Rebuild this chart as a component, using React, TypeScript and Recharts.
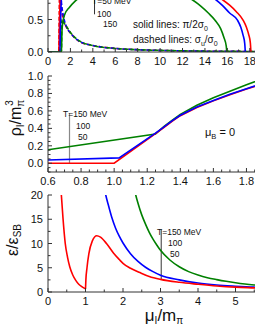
import React from 'react';
import { LineChart, Line, XAxis, YAxis, ReferenceLine } from 'recharts';

const FONT = '"Liberation Sans", Arial, Helvetica, sans-serif';
const RED = '#ff0000';
const BLUE = '#0000ff';
const GREEN = '#008000';
const AX = '#333333';
const TXT = '#111111';

type P = [number, number];

// ---------- top panel: pi/2sigma0 (solid) and sigma_u/sigma0 (dashed) ----------
const topXTicks = [0, 1, 2, 3, 4, 5, 6, 7, 8, 9, 10, 11, 12, 13, 14, 15, 16, 17, 18, 19];
const topXLabels = [0, 2, 4, 6, 8, 10, 12, 14, 16, 18];
const topYTicks = [0, 0.25, 0.5, 0.75, 1.0];
const topYLabels = [0, 0.5];

const topRedSolid: P[] = [[0, 0], [0.97, 0], [1.0, 0.25], [1.04, 0.55], [1.09, 0.8], [1.18, 0.95], [1.5, 1.05], [3, 1.1], [6, 1.12], [9, 1.1], [12, 1.02], [14, 0.93], [15, 0.86], [15.6, 0.8], [16.2, 0.72], [16.8, 0.62], [17.4, 0.49], [17.7, 0.38], [17.9, 0.27], [18.05, 0.14], [18.1, 0]];
const topBlueSolid: P[] = [[0, 0], [1.07, 0], [1.1, 0.3], [1.14, 0.6], [1.19, 0.8], [1.3, 0.95], [2, 1.05], [5, 1.1], [9, 1.07], [12, 0.98], [14, 0.87], [15, 0.8], [15.6, 0.71], [16.2, 0.6], [16.9, 0.49], [17.2, 0.38], [17.4, 0.26], [17.55, 0.13], [17.6, 0]];
const topGreenSolid: P[] = [[0, 0], [1.2, 0], [1.22, 0.15], [1.25, 0.33], [1.32, 0.45], [1.47, 0.57], [1.92, 0.69], [2.4, 0.78], [3.5, 0.9], [5, 0.98], [7, 1.02], [9, 1.0], [11, 0.93], [12, 0.86], [12.9, 0.8], [13.6, 0.71], [14.3, 0.6], [14.9, 0.49], [15.4, 0.36], [15.7, 0.22], [15.9, 0.09], [15.95, 0]];
const topRedDashed: P[] = [[0, 0], [0.97, 0], [1.0, 0.6], [1.03, 0.95], [1.1, 0.78], [1.3, 0.55], [1.62, 0.39], [2.07, 0.28], [2.8, 0.16], [4, 0.1], [6, 0.055], [8, 0.035], [10, 0.025], [13, 0.015], [16, 0.01], [19, 0.008]];
const topBlueDashed: P[] = [[0, 0], [1.07, 0], [1.1, 0.6], [1.13, 0.9], [1.2, 0.76], [1.4, 0.53], [1.62, 0.4], [2.07, 0.28], [2.8, 0.165], [4, 0.1], [6, 0.055], [8, 0.035], [10, 0.025], [13, 0.015], [16, 0.01], [19, 0.008]];
const topGreenDashed: P[] = [[0, 0], [1.2, 0], [1.23, 0.5], [1.3, 0.48], [1.45, 0.44], [1.62, 0.4], [2.07, 0.285], [2.8, 0.17], [4, 0.1], [6, 0.055], [8, 0.035], [10, 0.025], [13, 0.015], [16, 0.01], [19, 0.008]];

// ---------- middle panel: rho_I / m_pi^3 ----------
const midXTicks = [0.6, 0.65, 0.7, 0.75, 0.8, 0.85, 0.9, 0.95, 1.0, 1.05, 1.1, 1.15, 1.2, 1.25, 1.3, 1.35, 1.4, 1.45, 1.5, 1.55, 1.6, 1.65, 1.7, 1.75, 1.8, 1.85, 1.9];
const midXLabels = [0.6, 0.8, 1.0, 1.2, 1.4, 1.6, 1.8];
const midYTicks = [-0.1, -0.05, 0, 0.05, 0.1, 0.15, 0.2, 0.25, 0.3, 0.35, 0.4, 0.45, 0.5, 0.55, 0.6, 0.65, 0.7, 0.75, 0.8, 0.85, 0.9, 0.95, 1.0];
const midYLabels = [0, 0.2, 0.4, 0.6, 0.8, 1.0];

const midRed: P[] = [[0.6, 0], [1.0, 0], [1.25, 0.34], [1.3, 0.41], [1.35, 0.48], [1.4, 0.545], [1.5, 0.64], [1.6, 0.715], [1.7, 0.785], [1.8, 0.85], [1.9, 0.91]];
const midBlue: P[] = [[0.6, 0.038], [1.03, 0.062], [1.25, 0.345], [1.3, 0.415], [1.35, 0.485], [1.4, 0.55], [1.5, 0.645], [1.6, 0.72], [1.7, 0.79], [1.8, 0.855], [1.9, 0.915]];
const midGreen: P[] = [[0.6, 0.155], [1.25, 0.335], [1.3, 0.42], [1.35, 0.49], [1.4, 0.56], [1.5, 0.665], [1.6, 0.75], [1.7, 0.825], [1.8, 0.9], [1.9, 0.97]];

// ---------- bottom panel: epsilon / epsilon_SB ----------
const botXTicks = [0, 0.5, 1, 1.5, 2, 2.5, 3, 3.5, 4, 4.5, 5, 5.5];
const botXLabels = [0, 1, 2, 3, 4, 5];
const botYTicks = [0, 2.5, 5, 7.5, 10, 12.5, 15, 17.5, 20];
const botYLabels = [0, 5, 10, 15, 20];

const botRedLeft: P[] = [[0.3, 27], [0.356, 20], [0.4, 15.2], [0.46, 10], [0.52, 7.2], [0.58, 5.2], [0.66, 3.5], [0.74, 2.4], [0.82, 1.6], [0.9, 1.1], [1.0, 0.65]];
const botRedRight: P[] = [[1.0, 0.65], [1.01, 2.5], [1.04, 5], [1.09, 7.9], [1.18, 10.5], [1.3, 11.6], [1.4, 11.3], [1.56, 10.0], [1.75, 8.0], [1.9, 6.7], [2.0, 5.9], [2.2, 4.9], [2.45, 4.0], [2.7, 3.2], [3.0, 2.6], [3.5, 2.0], [4.0, 1.6], [4.5, 1.25], [5.0, 1.0], [5.5, 0.85], [5.6, 0.82]];
const botBlue: P[] = [[1.45, 23.5], [1.54, 20], [1.6, 18.2], [1.7, 15.4], [1.8, 13.2], [1.9, 11.5], [2.0, 10.1], [2.2, 7.9], [2.4, 6.3], [2.6, 5.1], [2.8, 4.2], [3.0, 3.45], [3.5, 2.5], [4.0, 1.85], [4.5, 1.45], [5.0, 1.2], [5.5, 1.0], [5.6, 0.97]];
const botGreen: P[] = [[2.25, 23.5], [2.34, 20], [2.4, 18.3], [2.5, 15.9], [2.6, 14.0], [2.7, 12.3], [2.8, 10.9], [2.9, 9.7], [3.0, 8.6], [3.25, 6.6], [3.5, 5.2], [3.75, 4.2], [4.0, 3.5], [4.25, 2.95], [4.5, 2.55], [4.75, 2.2], [5.0, 1.9], [5.25, 1.65], [5.5, 1.45], [5.6, 1.38]];

const pts = (a: P[]) => a.map(([x, y]) => ({ x, y }));
const isIn = (arr: number[], v: number) => arr.some((l) => Math.abs(l - v) < 1e-9);

type Orient = 'bottom' | 'left' | 'top';
function makeTick(orient: Orient, labels: number[], fmt: (v: number) => string, showLabels = true) {
  return (props: any) => {
    const { x, y, payload } = props;
    const v = payload.value as number;
    const major = isIn(labels, v);
    const len = major ? 4 : 2.5;
    if (orient === 'bottom') {
      return (
        <g>
          <line x1={x} y1={y} x2={x} y2={y - len} stroke={AX} strokeWidth={1} />
          {showLabels && major && (
            <text x={x} y={y + 12.5} textAnchor="middle" fontSize={11} fill={TXT} fontFamily={FONT}>
              {fmt(v)}
            </text>
          )}
        </g>
      );
    }
    if (orient === 'top') {
      return (
        <g>
          <line x1={x} y1={y} x2={x} y2={y + len} stroke={AX} strokeWidth={1} />
        </g>
      );
    }
    return (
      <g>
        <line x1={x} y1={y} x2={x + len} y2={y} stroke={AX} strokeWidth={1} />
        {showLabels && major && (
          <text x={x - 5} y={y + 4} textAnchor="end" fontSize={11} fill={TXT} fontFamily={FONT}>
            {fmt(v)}
          </text>
        )}
      </g>
    );
  };
}

const f1 = (v: number) => v.toFixed(1);
const f0 = (v: number) => String(Math.round(v));

const lineProps = { type: 'monotone' as const, dataKey: 'y', dot: false, isAnimationActive: false, strokeWidth: 1.6 };

function TopPanel() {
  return (
    <LineChart width={261} height={92} margin={{ top: 7, right: 0, left: 0, bottom: 0 }}>
      <XAxis type="number" dataKey="x" domain={[0, 19]} ticks={topXTicks} interval={0} allowDataOverflow height={20}
        axisLine={{ stroke: AX }} tickLine={false} tickSize={0} tickMargin={0} tick={makeTick('bottom', topXLabels, f0)} />
      <YAxis type="number" domain={[0, 1]} ticks={topYTicks} interval={0} allowDataOverflow width={48}
        axisLine={{ stroke: AX }} tickLine={false} tickSize={0} tickMargin={0} tick={makeTick('left', topYLabels, f1)} />
      <Line {...lineProps} data={pts(topRedDashed)} stroke={RED} strokeDasharray="4 2" />
      <Line {...lineProps} data={pts(topBlueDashed)} stroke={BLUE} strokeDasharray="4 2" />
      <Line {...lineProps} data={pts(topGreenDashed)} stroke={GREEN} strokeDasharray="4 2" />
      <Line {...lineProps} data={pts(topRedSolid)} stroke={RED} />
      <Line {...lineProps} data={pts(topBlueSolid)} stroke={BLUE} />
      <Line {...lineProps} data={pts(topGreenSolid)} stroke={GREEN} />
      <ReferenceLine segment={[{ x: 4.15, y: 0.58 }, { x: 4.15, y: 1.0 }]} stroke="#333" strokeWidth={1} ifOverflow="visible" />
    </LineChart>
  );
}

function MidPanel() {
  return (
    <LineChart width={263} height={126} margin={{ top: 10, right: 0, left: 0, bottom: 0 }}>
      <XAxis type="number" dataKey="x" domain={[0.6, 1.9]} ticks={midXTicks} interval={0} allowDataOverflow height={20}
        axisLine={{ stroke: AX }} tickLine={false} tickSize={0} tickMargin={0} tick={makeTick('bottom', midXLabels, f1)} />
      <XAxis xAxisId="top" orientation="top" type="number" domain={[0.6, 1.9]} ticks={midXTicks} interval={0} height={0}
        axisLine={{ stroke: AX }} tickLine={false} tickSize={0} tickMargin={0} tick={makeTick('top', midXLabels, f1, false)} />
      <YAxis type="number" domain={[-0.1, 1.0]} ticks={midYTicks} interval={0} allowDataOverflow width={48}
        axisLine={{ stroke: AX }} tickLine={false} tickSize={0} tickMargin={0} tick={makeTick('left', midYLabels, f1)} />
      <ReferenceLine segment={[{ x: 0.73, y: 0.0 }, { x: 0.73, y: 0.575 }]} stroke="#888" strokeWidth={1.2} />
      <Line {...lineProps} type="linear" data={pts(midGreen)} stroke={GREEN} />
      <Line {...lineProps} type="linear" data={pts(midRed)} stroke={RED} />
      <Line {...lineProps} type="linear" data={pts(midBlue)} stroke={BLUE} />
    </LineChart>
  );
}

function BotPanel() {
  return (
    <LineChart width={258} height={147} margin={{ top: 10, right: 0, left: 0, bottom: 0 }}>
      <XAxis type="number" dataKey="x" domain={[0, 5.6]} ticks={botXTicks} interval={0} allowDataOverflow height={40}
        axisLine={{ stroke: AX }} tickLine={false} tickSize={0} tickMargin={0} tick={makeTick('bottom', botXLabels, f0)} />
      <XAxis xAxisId="top" orientation="top" type="number" domain={[0, 5.6]} ticks={botXTicks} interval={0} height={0}
        axisLine={{ stroke: AX }} tickLine={false} tickSize={0} tickMargin={0} tick={makeTick('top', botXLabels, f0, false)} />
      <YAxis type="number" domain={[0, 20]} ticks={botYTicks} interval={0} allowDataOverflow width={48}
        axisLine={{ stroke: AX }} tickLine={false} tickSize={0} tickMargin={0} tick={makeTick('left', botYLabels, f0)} />
      <ReferenceLine segment={[{ x: 3.02, y: 2.6 }, { x: 3.02, y: 12.9 }]} stroke="#555" strokeWidth={1.2} />
      <Line {...lineProps} data={pts(botGreen)} stroke={GREEN} />
      <Line {...lineProps} data={pts(botBlue)} stroke={BLUE} />
      <Line {...lineProps} data={pts(botRedLeft)} stroke={RED} />
      <Line {...lineProps} data={pts(botRedRight)} stroke={RED} />
    </LineChart>
  );
}

function Overlay() {
  const t = { fontFamily: FONT, fill: TXT } as const;
  return (
    <svg width={255} height={330} style={{ position: 'absolute', left: 0, top: 0, pointerEvents: 'none' }}>
      {/* top panel annotations */}
      <text x={92} y={4} fontSize={8.5} {...t}>T=50 MeV</text>
      <text x={97} y={16.8} fontSize={8.5} {...t}>100</text>
      <text x={103} y={27.2} fontSize={8.5} {...t}>150</text>
      <text x={133} y={28} fontSize={10} {...t}>
        solid lines:  π/2σ<tspan fontSize={7} dy={2.5}>0</tspan>
      </text>
      <text x={133} y={43} fontSize={10} {...t}>
        dashed lines:  σ<tspan fontSize={7} dy={2.5}>u</tspan><tspan dy={-2.5}>/σ</tspan><tspan fontSize={7} dy={2.5}>0</tspan>
      </text>
      {/* middle panel annotations */}
      <text x={63} y={117.2} fontSize={8.5} {...t}>T=150 MeV</text>
      <text x={76} y={128.5} fontSize={8.5} {...t}>100</text>
      <text x={78} y={139.9} fontSize={8.5} {...t}>50</text>
      <text x={205} y={135.5} fontSize={11} {...t}>
        μ<tspan fontSize={7.5} dy={3}>B</tspan><tspan dy={-3}> = 0</tspan>
      </text>
      <text transform="translate(21,118) rotate(-90)" textAnchor="middle" fontSize={16} {...t}>
        ρ<tspan fontSize={10} dy={3}>I</tspan><tspan dy={-3}>/m</tspan><tspan fontSize={10} dy={3}>π</tspan><tspan fontSize={10} dy={-11} dx={-6}>3</tspan>
      </text>
      {/* bottom panel annotations */}
      <text x={157} y={234.9} fontSize={8.5} {...t}>T=150 MeV</text>
      <text x={168} y={245.5} fontSize={8.5} {...t}>100</text>
      <text x={170} y={256.5} fontSize={8.5} {...t}>50</text>
      <text transform="translate(18,240) rotate(-90)" textAnchor="middle" fontSize={16} {...t}>
        ε/ε<tspan fontSize={10} dy={3}>SB</tspan>
      </text>
      <text x={164} y={321} textAnchor="middle" fontSize={17} {...t}>
        μ<tspan fontSize={10} dy={3}>I</tspan><tspan dy={-3}>/m</tspan><tspan fontSize={10} dy={3}>π</tspan>
      </text>
    </svg>
  );
}

export default function App() {
  return (
    <div style={{ position: 'absolute', left: 0, top: 0, width: 255, height: 330, overflow: 'hidden', background: '#fff', fontFamily: FONT }}>
      <div style={{ position: 'absolute', left: 0, top: -20 }}><TopPanel /></div>
      <div style={{ position: 'absolute', left: 0, top: 66 }}><MidPanel /></div>
      <div style={{ position: 'absolute', left: 0, top: 185 }}><BotPanel /></div>
      <Overlay />
    </div>
  );
}
